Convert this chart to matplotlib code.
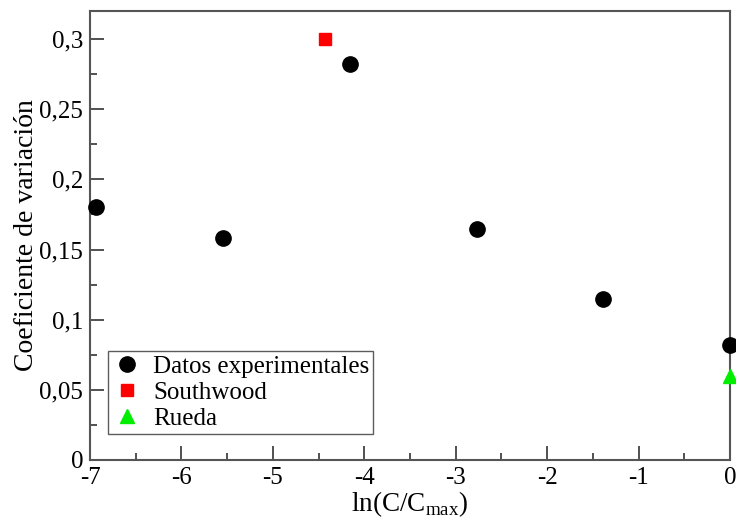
import numpy as np
import matplotlib
matplotlib.use("Agg")
import matplotlib.pyplot as plt
from matplotlib.ticker import MultipleLocator, FuncFormatter

plt.rcParams["font.family"] = ["Liberation Serif", "DejaVu Serif"]
plt.rcParams["mathtext.fontset"] = "custom"
plt.rcParams["mathtext.rm"] = "Liberation Serif"
plt.rcParams["axes.unicode_minus"] = False

# datos
x_exp = [-6.93, -5.55, -4.16, -2.77, -1.39, 0.0]
y_exp = [0.180, 0.158, 0.282, 0.165, 0.115, 0.082]
x_south = [-4.43]
y_south = [0.300]
x_rueda = [0.0]
y_rueda = [0.060]

fig = plt.figure(figsize=(7.36, 5.26), dpi=100)
ax = fig.add_axes([0.1223, 0.1255, 0.8695, 0.8535])

ax.plot(x_exp, y_exp, "o", color="black", markersize=11, ls="none",
        clip_on=False, zorder=3, label="Datos experimentales")
ax.plot(x_south, y_south, "s", color="red", markersize=8, ls="none",
        clip_on=False, zorder=3, label="Southwood")
ax.plot(x_rueda, y_rueda, "^", color="#00ee00", markersize=10, ls="none",
        clip_on=False, zorder=3, label="Rueda")

ax.set_xlim(-7, 0)
ax.set_ylim(0, 0.32)
ax.xaxis.set_major_locator(MultipleLocator(1))
ax.xaxis.set_minor_locator(MultipleLocator(0.5))
ax.yaxis.set_major_locator(MultipleLocator(0.05))
ax.yaxis.set_minor_locator(MultipleLocator(0.025))
ax.yaxis.set_major_formatter(FuncFormatter(lambda v, p: ("%g" % round(v, 3)).replace(".", ",")))
ax.xaxis.set_major_formatter(FuncFormatter(lambda v, p: "%d" % round(v)))

for s in ax.spines.values():
    s.set_color("#555555")
    s.set_linewidth(1.5)
ax.tick_params(which="both", direction="in", color="#333333", width=1.2,
               labelsize=18, top=False, right=False)
ax.tick_params(which="major", length=10, pad=5)
ax.tick_params(which="minor", length=5)

ax.set_xlabel(r"ln(C/C$_{\mathrm{max}}$)", fontsize=19.5, labelpad=0)
ax.set_ylabel("Coeficiente de variación", fontsize=20, labelpad=0)

leg = ax.legend(loc="lower left", bbox_to_anchor=(0.028, 0.058), borderaxespad=0,
                fontsize=18, frameon=True, fancybox=False, handletextpad=0.45,
                handlelength=1.2, borderpad=0.15, labelspacing=0.15)
leg.get_frame().set_edgecolor("#333333")
leg.get_frame().set_linewidth(1.0)

fig.savefig("out.png", dpi=100)
